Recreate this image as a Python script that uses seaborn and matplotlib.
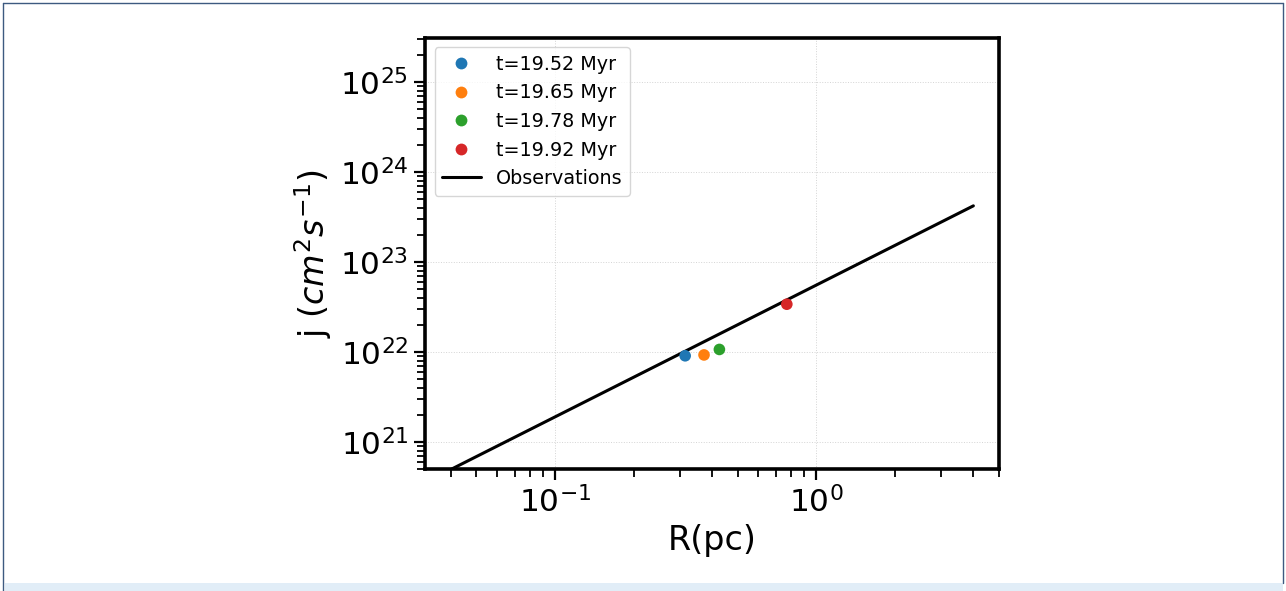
import matplotlib
matplotlib.use("Agg")
import matplotlib.pyplot as plt
from matplotlib.lines import Line2D
from matplotlib.patches import Rectangle
import seaborn as sns
import pandas as pd

# ---- data ----
labels = ["t=19.52 Myr", "t=19.65 Myr", "t=19.78 Myr", "t=19.92 Myr"]
R_pts = [0.315, 0.372, 0.426, 0.772]
j_pts = [9.1e21, 9.3e21, 1.07e22, 3.4e22]
colors = ["#1f77b4", "#ff7f0e", "#2ca02c", "#d62728"]

R_obs = [0.04, 4.0]
j_obs = [5.0e20, 4.2e23]
obs_label = "Observations"

sns.set_theme(style="ticks")
plt.rcParams["font.family"] = ["DejaVu Sans"]
plt.rcParams["mathtext.fontset"] = "dejavusans"
plt.rcParams["text.color"] = "black"
plt.rcParams["axes.labelcolor"] = "black"
plt.rcParams["legend.labelcolor"] = "black"

fig = plt.figure(figsize=(12.86, 5.91), dpi=100)
ax = fig.add_axes([0.3305, 0.2059, 0.7772 - 0.3305, 0.9365 - 0.2059])

df_pts = pd.DataFrame({"R": R_pts, "j": j_pts, "t": labels})
df_obs = pd.DataFrame({"R": R_obs, "j": j_obs})

sns.lineplot(data=df_obs, x="R", y="j", color="black", linewidth=2.2, ax=ax,
             legend=False, zorder=2)
sns.scatterplot(data=df_pts, x="R", y="j", hue="t", palette=colors, s=70,
                edgecolor="none", ax=ax, legend=False, zorder=3)

ax.set_xscale("log")
ax.set_yscale("log")
ax.set_ylim(5e20, 3.1e25)
ax.margins(x=0.05)

ax.grid(True, which="major", color="#d4d4d4", linestyle=":", linewidth=0.7)
ax.set_axisbelow(True)

for sp in ax.spines.values():
    sp.set_linewidth(2.6)
    sp.set_color("black")

ax.tick_params(which="major", direction="out", length=8, width=1.6,
               labelsize=22.5, colors="black", pad=4)
ax.tick_params(which="minor", direction="out", length=5.5, width=1.3,
               colors="black")

ax.set_xlabel("R(pc)", fontsize=24, labelpad=4)
ax.set_ylabel(r"j $(cm^2s^{-1})$", fontsize=24, labelpad=4)

handles = [Line2D([], [], marker="o", linestyle="none", color=c,
                  markersize=8.5, markeredgewidth=0) for c in colors]
handles.append(Line2D([], [], color="black", linewidth=2.2))
leg = ax.legend(handles, labels + [obs_label], loc="upper left",
                fontsize=13.8, frameon=True, fancybox=True, framealpha=0.8,
                borderpad=0.4, labelspacing=0.5, handlelength=2.0)
leg.get_frame().set_edgecolor("#cccccc")
leg.get_frame().set_linewidth(1.0)

# page frame artifacts seen around the reference picture
W, H = 1286, 591
fig.add_artist(Line2D([3 / W, 1283 / W], [1 - 3 / H, 1 - 3 / H],
                      transform=fig.transFigure, color="#3d5a80", lw=1.0))
fig.add_artist(Line2D([3 / W, 3 / W], [1 - 3 / H, 0],
                      transform=fig.transFigure, color="#3d5a80", lw=1.0))
fig.add_artist(Line2D([1283 / W, 1283 / W], [1 - 3 / H, 8 / H],
                      transform=fig.transFigure, color="#3d5a80", lw=1.0))
fig.add_artist(Rectangle((5 / W, 0), 1278 / W, 8 / H, transform=fig.transFigure,
                         facecolor="#e1edf7", edgecolor="none"))

fig.savefig("out.png", dpi=100)
